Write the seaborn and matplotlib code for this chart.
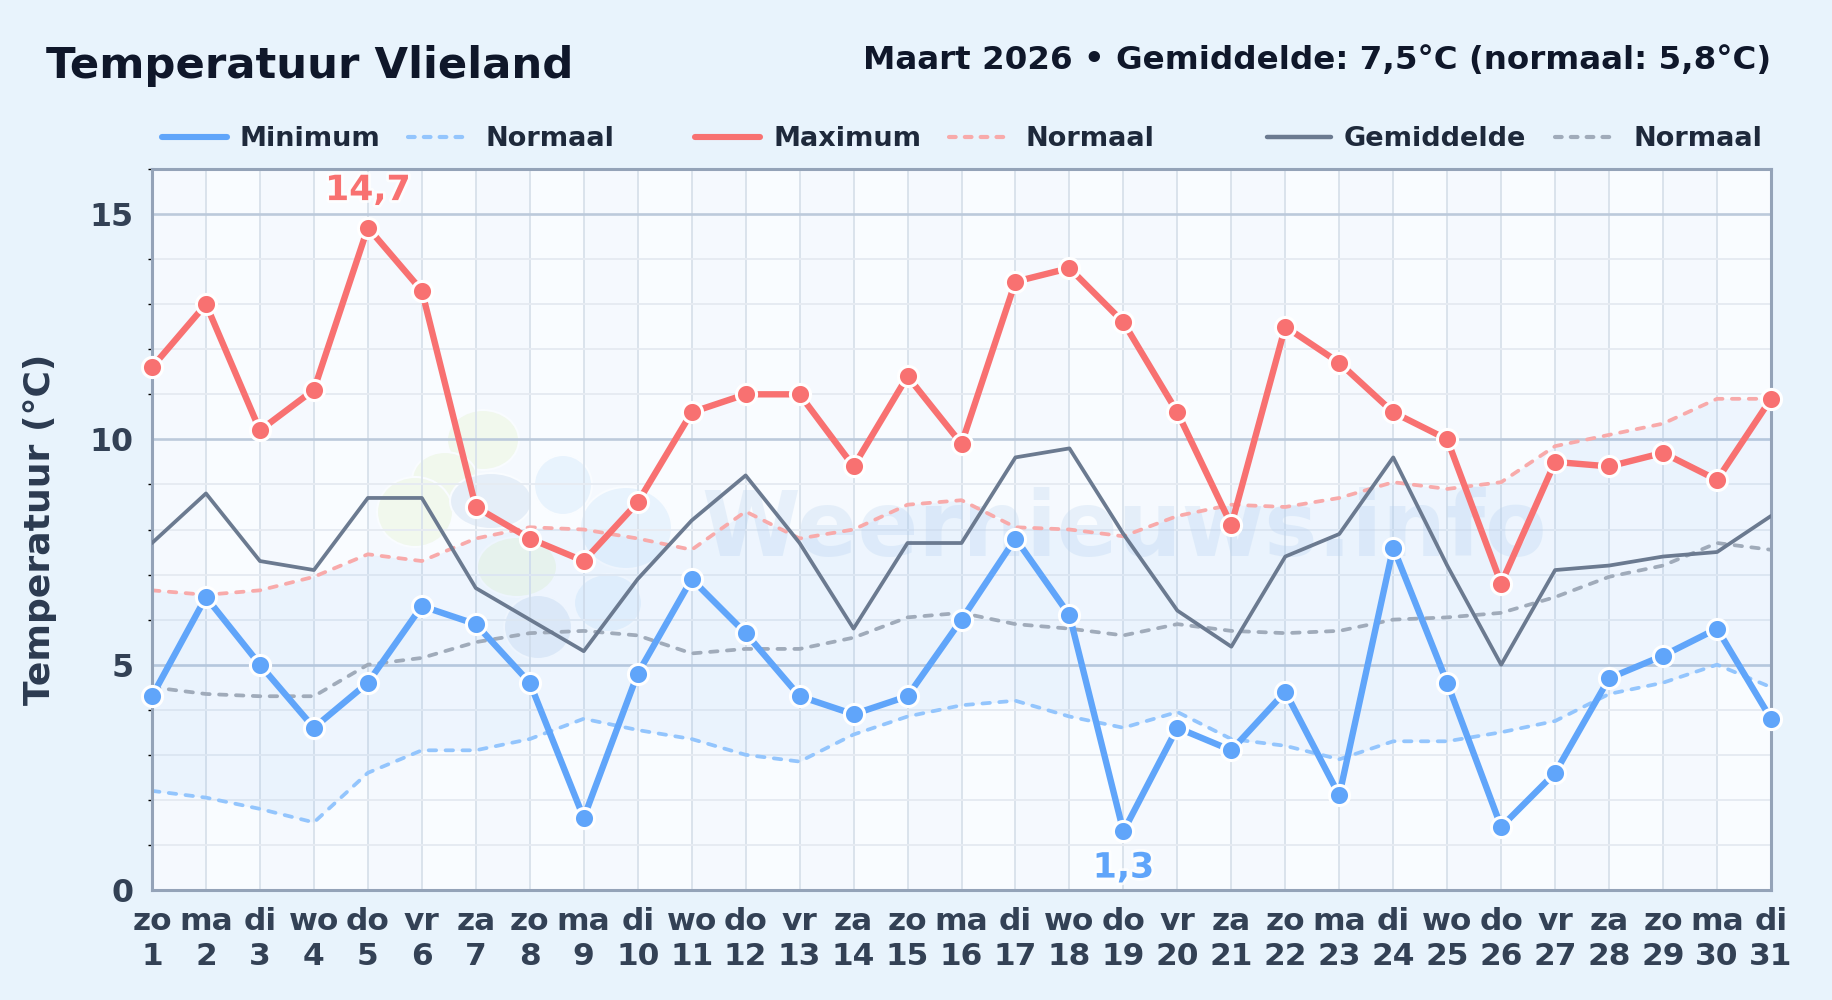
#!/usr/bin/env python
import matplotlib
matplotlib.use('Agg')
import matplotlib.pyplot as plt
import matplotlib.patheffects as pe
from matplotlib.lines import Line2D
from matplotlib.patches import Ellipse
from matplotlib.ticker import MultipleLocator
import pandas as pd
import seaborn as sns

days = list(range(1, 32))
weekdays = ['zo', 'ma', 'di', 'wo', 'do', 'vr', 'za'] * 4 + ['zo', 'ma', 'di']

t_min = [4.3, 6.5, 5.0, 3.6, 4.6, 6.3, 5.9, 4.6, 1.6, 4.8, 6.9, 5.7, 4.3, 3.9, 4.3, 6.0,
         7.8, 6.1, 1.3, 3.6, 3.1, 4.4, 2.1, 7.6, 4.6, 1.4, 2.6, 4.7, 5.2, 5.8, 3.8]
t_max = [11.6, 13.0, 10.2, 11.1, 14.7, 13.3, 8.5, 7.8, 7.3, 8.6, 10.6, 11.0, 11.0, 9.4, 11.4, 9.9,
         13.5, 13.8, 12.6, 10.6, 8.1, 12.5, 11.7, 10.6, 10.0, 6.8, 9.5, 9.4, 9.7, 9.1, 10.9]
t_avg = [7.7, 8.8, 7.3, 7.1, 8.7, 8.7, 6.7, 6.0, 5.3, 6.9, 8.2, 9.2, 7.7, 5.8, 7.7, 7.7,
         9.6, 9.8, 7.9, 6.2, 5.4, 7.4, 7.9, 9.6, 7.2, 5.0, 7.1, 7.2, 7.4, 7.5, 8.3]
norm_min = [2.2, 2.05, 1.8, 1.5, 2.6, 3.1, 3.1, 3.35, 3.8, 3.55, 3.35, 3.0, 2.85, 3.45, 3.85, 4.1,
            4.2, 3.85, 3.6, 3.95, 3.35, 3.2, 2.9, 3.3, 3.3, 3.5, 3.75, 4.35, 4.6, 5.0, 4.5]
norm_max = [6.65, 6.55, 6.65, 6.95, 7.45, 7.3, 7.8, 8.05, 8.0, 7.8, 7.55, 8.4, 7.8, 8.0, 8.55, 8.65,
            8.05, 8.0, 7.85, 8.3, 8.55, 8.5, 8.7, 9.05, 8.9, 9.05, 9.85, 10.1, 10.35, 10.9, 10.9]
norm_avg = [4.5, 4.35, 4.3, 4.3, 5.0, 5.15, 5.5, 5.7, 5.75, 5.65, 5.25, 5.35, 5.35, 5.6, 6.05, 6.15,
            5.9, 5.8, 5.65, 5.9, 5.75, 5.7, 5.75, 6.0, 6.05, 6.15, 6.5, 6.95, 7.2, 7.7, 7.55]

BG = '#E8F3FC'
PLOT_BG = '#F9FCFF'
STRIPE = '#F5F9FE'
BLUE = '#60A5FA'
RED = '#F87171'
SLATE = '#6B7A90'
DARK = '#0F172A'
TICK = '#334155'

sns.set_theme(style='white')
plt.rcParams['font.family'] = ['DejaVu Sans']
plt.rcParams['font.weight'] = 'bold'

df = pd.DataFrame({'dag': days, 'min': t_min, 'max': t_max, 'gem': t_avg,
                   'nmin': norm_min, 'nmax': norm_max, 'ngem': norm_avg})

fig = plt.figure(figsize=(18.32, 10), dpi=100, facecolor=BG)
ax = fig.add_axes([152 / 1832, 1 - 890 / 1000, 1619 / 1832, 721 / 1000], facecolor=PLOT_BG)


def fx(px):
    return px / 1832


def fy(px):
    return 1 - px / 1000


# every other day column is a touch bluer
for d in days[:-1:2]:
    ax.axvspan(d, d + 1, color=STRIPE, linewidth=0, zorder=0.1)

# watermark logo blobs, placed in pixels of the figure
GREEN_BLOB = '#F1F8ED'
BLUE_BLOB = '#E8F3FD'
SLATE_BLOB = '#E5EEF8'
blobs = [(483, 440, 72, 60, GREEN_BLOB), (445, 480, 66, 56, GREEN_BLOB), (415, 512, 76, 70, GREEN_BLOB),
         (517, 567, 80, 60, GREEN_BLOB), (491, 501, 82, 56, SLATE_BLOB), (563, 485, 58, 60, BLUE_BLOB),
         (626, 528, 92, 82, BLUE_BLOB), (608, 603, 68, 58, BLUE_BLOB), (538, 627, 68, 64, SLATE_BLOB)]
for bx, by, bw, bh, bc in blobs:
    ax.add_patch(Ellipse((fx(bx), fy(by)), bw / 1832, bh / 1000, transform=fig.transFigure,
                         facecolor=bc, edgecolor=PLOT_BG, linewidth=1.5, zorder=0.3))
ax.text(fx(1124), fy(531), 'Weernieuws.info', transform=fig.transFigure, ha='center', va='center',
        fontsize=64.5, color='#BFD7F0', alpha=0.3, zorder=0.6)

ax.fill_between(df['dag'], df['nmin'], df['nmax'], color=BLUE, alpha=0.07, linewidth=0, zorder=1)

dash_kw = dict(linewidth=2.7, dashes=(2, 2.5), zorder=2, legend=False)
sns.lineplot(data=df, x='dag', y='nmin', color='#93C5FD', ax=ax, **dash_kw)
sns.lineplot(data=df, x='dag', y='nmax', color='#F8AAAA', ax=ax, **dash_kw)
sns.lineplot(data=df, x='dag', y='ngem', color='#A0ABBA', ax=ax, **dash_kw)
for line in ax.get_lines():
    line.set_dash_capstyle('round')
sns.lineplot(data=df, x='dag', y='gem', color=SLATE, linewidth=2.7, ax=ax, zorder=3, legend=False)

mark_kw = dict(linewidth=4.6, marker='o', markersize=14.5, markeredgecolor='white',
               markeredgewidth=2.2, clip_on=False, zorder=4, legend=False)
sns.lineplot(data=df, x='dag', y='min', color=BLUE, ax=ax, **mark_kw)
sns.lineplot(data=df, x='dag', y='max', color=RED, ax=ax, **mark_kw)

ax.set_xlim(1, 31)
ax.set_ylim(0, 16)
ax.set_xticks(days)
ax.set_xticklabels([f'{w}\n{d}' for w, d in zip(weekdays, days)])
ax.yaxis.set_major_locator(MultipleLocator(5))
ax.yaxis.set_minor_locator(MultipleLocator(1))
ax.set_xlabel('')
ax.set_ylabel('Temperatuur (°C)', fontsize=26, fontweight='bold', color='#2B3A50')
ax.yaxis.set_label_coords((57 - 152) / 1619, 0.5)

ax.grid(axis='x', color='#D8E1EB', linewidth=1.3)
ax.grid(axis='y', which='major', color='#BCCADB', linewidth=1.9)
ax.grid(axis='y', which='minor', color='#E6EBF2', linewidth=1.4)
ax.set_axisbelow(True)
ax.tick_params(axis='x', which='major', length=0, pad=12, labelsize=22.5, labelcolor=TICK)
ax.tick_params(axis='y', which='major', length=0, pad=13.5, labelsize=22.8, labelcolor=TICK)
ax.tick_params(axis='y', which='minor', left=True, length=3, width=1, color='black')
for lab in ax.get_xticklabels():
    lab.set_linespacing(1.26)
for s in ax.spines.values():
    s.set_color('#94A3B8')
    s.set_linewidth(2.2)

# extremes
halo = [pe.withStroke(linewidth=4, foreground='white', alpha=0.8)]
hi = df.loc[df['max'].idxmax()]
lo = df.loc[df['min'].idxmin()]
ax.annotate(f"{hi['max']:.1f}".replace('.', ','), (hi['dag'], hi['max']), xytext=(0, 27),
            textcoords='offset points', ha='center', va='center', fontsize=25, color=RED,
            path_effects=halo, zorder=5)
ax.annotate(f"{lo['min']:.1f}".replace('.', ','), (lo['dag'], lo['min']), xytext=(0, -26),
            textcoords='offset points', ha='center', va='center', fontsize=25, color=BLUE,
            path_effects=halo, zorder=5)

# header
fig.text(fx(46), fy(66), 'Temperatuur Vlieland', fontsize=31.2, color=DARK, ha='left', va='center')
fig.text(fx(1771), fy(60), 'Maart 2026 • Gemiddelde: 7,5°C (normaal: 5,8°C)', fontsize=23.4,
         color=DARK, ha='right', va='center')

# legend, one line and text per series
legend_items = [
    (162, 227, 240, 'Minimum', BLUE, 4.4, '-'),
    (408, 464, 486, 'Normaal', '#93C5FD', 3.0, (0, (1.6, 2.2))),
    (695, 760, 773, 'Maximum', RED, 4.4, '-'),
    (949, 1005, 1026, 'Normaal', '#F8AAAA', 3.0, (0, (1.6, 2.2))),
    (1267, 1331, 1344, 'Gemiddelde', SLATE, 3.2, '-'),
    (1555, 1618, 1633, 'Normaal', '#A0ABBA', 3.0, (0, (1.6, 2.2))),
]
for x0, x1, xt, name, col, lw, ls in legend_items:
    fig.add_artist(Line2D([fx(x0), fx(x1)], [fy(137), fy(137)], color=col, linewidth=lw, linestyle=ls,
                          solid_capstyle='round', dash_capstyle='round', transform=fig.transFigure))
    fig.text(fx(xt), fy(139), name, fontsize=19.5, color='#1E293B', ha='left', va='center')

plt.savefig('out.png', dpi=100, facecolor=BG)
